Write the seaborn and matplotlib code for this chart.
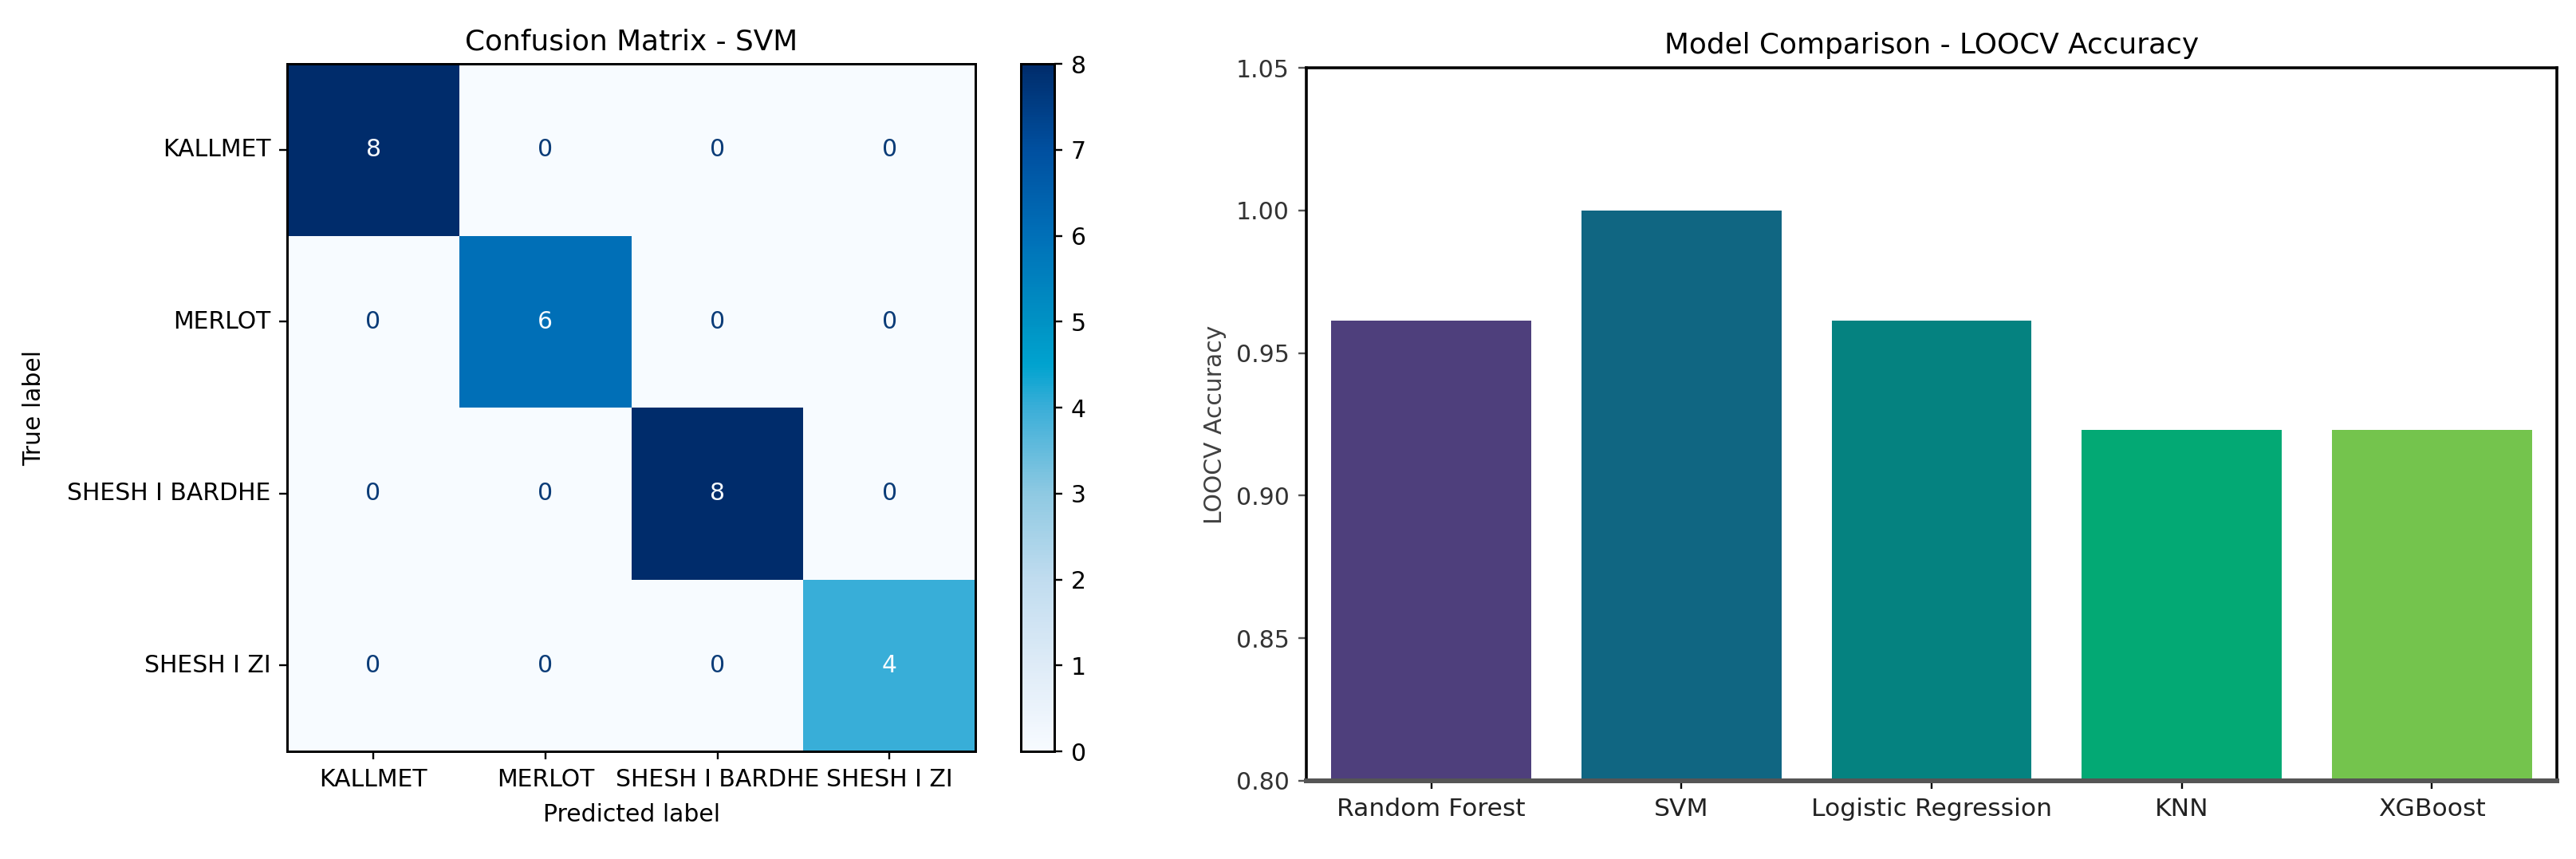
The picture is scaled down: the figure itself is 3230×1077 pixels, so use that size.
import numpy as np
import pandas as pd
import matplotlib
matplotlib.use("Agg")
import matplotlib.pyplot as plt
from matplotlib.colors import LinearSegmentedColormap
import seaborn as sns

# ---------------- data ----------------
class_labels = ["KALLMET", "MERLOT", "SHESH I BARDHE", "SHESH I ZI"]
cm_kallmet = [8, 0, 0, 0]
cm_merlot = [0, 6, 0, 0]
cm_bardhe = [0, 0, 8, 0]
cm_zi = [0, 0, 0, 4]

models = ["Random Forest", "SVM", "Logistic Regression", "KNN", "XGBoost"]
loocv_acc = [0.9615, 1.0, 0.9615, 0.9231, 0.9231]
bar_colors = ["#4e3f7c", "#106682", "#058280", "#03a974", "#74c44d"]

# ---------------- figure ----------------
DPI = 3230 / 15
fig = plt.figure(figsize=(15, 1077 / DPI), dpi=DPI)
plt.rcParams['font.family'] = ['DejaVu Sans']

cm_df = pd.DataFrame([cm_kallmet, cm_merlot, cm_bardhe, cm_zi],
                     index=class_labels, columns=class_labels)

blues_sat = LinearSegmentedColormap.from_list(
    "blues_sat",
    [(0.0, "#f7fbff"), (0.125, "#deebf7"), (0.25, "#c0dcef"),
     (0.375, "#8ec9e2"), (0.5, "#3aaed8"), (0.5625, "#00a3cf"),
     (0.625, "#0092c4"), (0.75, "#0070b8"), (0.875, "#0050a0"),
     (1.0, "#002c6b")])

ax1 = fig.add_axes([0.1115, 0.1253, 0.2672, 0.8004])
cax = fig.add_axes([0.3963, 0.1253, 0.0130, 0.8004])
vmax = int(cm_df.values.max())
sns.heatmap(cm_df, ax=ax1, cbar_ax=cax, cmap=blues_sat, vmin=0, vmax=vmax,
            annot=True, fmt="d", annot_kws={"fontsize": 10})
thresh = vmax / 2.0
for t in ax1.texts:
    v = int(t.get_text())
    t.set_color("#f7fbff" if v >= thresh else "#0b3c78")
for sp in ax1.spines.values():
    sp.set_visible(True)
    sp.set_color("black")
    sp.set_linewidth(1.0)
ax1.set_xticklabels(class_labels, rotation=0, fontsize=10)
ax1.set_yticklabels(class_labels, rotation=0, fontsize=10)
ax1.tick_params(axis="both", length=3.5, width=0.8, color="black")
ax1.set_xlabel("Predicted label", fontsize=10, labelpad=5)
ax1.set_ylabel("True label", fontsize=10, labelpad=9)
ax1.set_title("Confusion Matrix - SVM", fontsize=12)

cax.set_yticks(list(range(0, vmax + 1)))
cax.tick_params(labelsize=10, length=3.5, width=0.8)
cb = ax1.collections[0].colorbar
cb.outline.set_visible(True)
cb.outline.set_linewidth(1.0)
cb.outline.set_edgecolor("black")

# ---------------- right: bar chart ----------------
ax2 = fig.add_axes([0.5071, 0.0910, 0.4855, 0.8300])
sns.barplot(x=models, y=loocv_acc, hue=models, palette=bar_colors,
            legend=False, width=0.8, ax=ax2, saturation=1)
ax2.set_ylim(0.80, 1.05)
ax2.set_yticks([0.80, 0.85, 0.90, 0.95, 1.00, 1.05])
ax2.set_yticklabels([f"{v:.2f}" for v in [0.80, 0.85, 0.90, 0.95, 1.00, 1.05]])
for side in ["left", "top", "right"]:
    ax2.spines[side].set_color("black")
    ax2.spines[side].set_linewidth(1.2)
ax2.spines["bottom"].set_color("#555555")
ax2.spines["bottom"].set_linewidth(2.0)
ax2.tick_params(axis="y", labelsize=10, labelcolor="#333333", color="#555555")
ax2.tick_params(axis="x", labelsize=10.5, labelcolor="#222222")
ax2.set_xlabel("")
ax2.set_ylabel("LOOCV Accuracy", fontsize=10, color="#404040")
ax2.set_title("Model Comparison - LOOCV Accuracy", fontsize=12)

fig.savefig("out.png", dpi=DPI)
